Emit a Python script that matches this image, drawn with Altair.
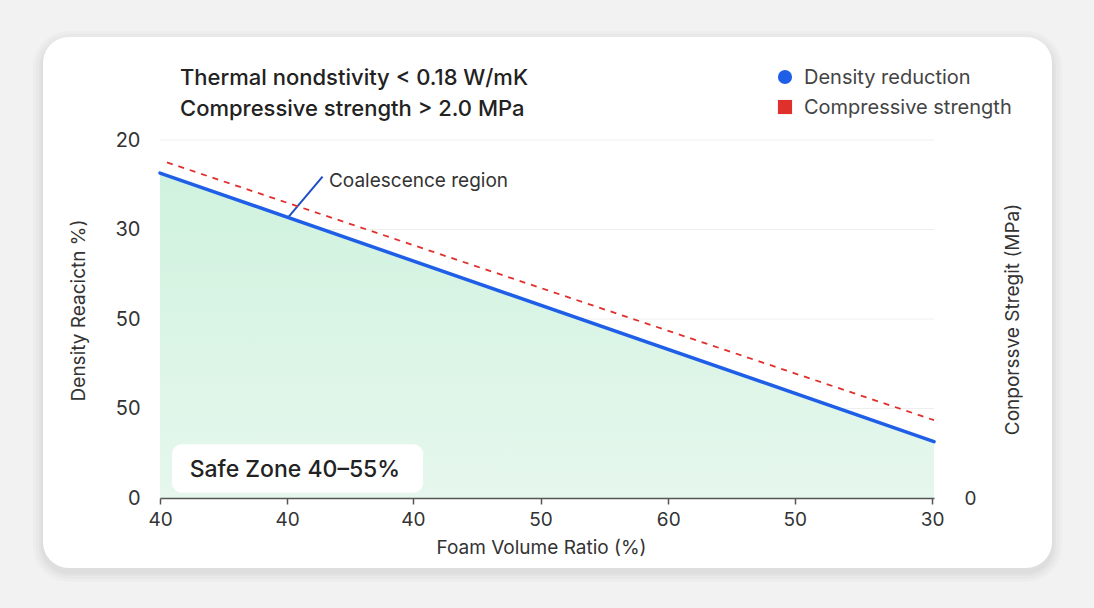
import altair as alt
import pandas as pd

# ---- data ----
x_labels = ["40", "40", "40", "50", "60", "50", "30"]        # x tick labels
x_tick_pos = [0.0, 0.985, 1.96, 2.95, 3.94, 4.92, 5.985]     # where they sit on the axis
y_labels = ["0", "50", "50", "30", "20"]                      # left y tick labels (positions 0..4)

density_x = [0.0, 6.0]
density_y = [3.63, 0.63]
strength_x = [0.054, 6.0]
strength_y = [3.75, 0.87]

series_names = ["Density reduction", "Compressive strength"]
series_colors = ["#1f5fe8", "#e0302c"]

header_lines = ["Thermal nondstivity < 0.18 W/mK", "Compressive strength > 2.0 MPa"]
annot_text = "Coalescence region"
annot_line_x = [0.99, 1.26]
annot_line_y = [3.13, 3.59]
annot_pos = (1.31, 3.54)
safe_text = "Safe Zone 40–55%"
safe_box = (0.093, 2.04, 0.06, 0.60)

FONT = "Inter"
W, H = 774, 358
L, T = 160, 140

xs = alt.Scale(domain=[0, 6], nice=False, zero=False)
ys = alt.Scale(domain=[0, 4], nice=False, zero=False)

x_label_expr = ("[" + ",".join(f"'{v}'" for v in x_labels) + "][indexof(["
                + ",".join(str(p) for p in x_tick_pos) + "], datum.value)]")
y_label_expr = "[" + ",".join(f"'{v}'" for v in y_labels) + "][round(datum.value)]"

x_axis = alt.Axis(values=x_tick_pos, labelExpr=x_label_expr, zindex=2,
                  title="Foam Volume Ratio (%)", grid=False, domainColor="#555555",
                  domainWidth=1.5, tickColor="#555555", tickSize=6, tickWidth=1.5,
                  labelFlush=False, labelOverlap=False,
                  labelFontSize=19, labelColor="#333333", labelPadding=6, labelFont=FONT,
                  titleFont=FONT, titleFontSize=19, titleFontWeight="normal", titleColor="#333333",
                  titleY=49, titleBaseline="middle", titleX=W / 2 - 6)
y_axis = alt.Axis(values=list(range(len(y_labels))), labelExpr=y_label_expr, zindex=2,
                  title="Density Reacictn %)", grid=False, domain=False,
                  ticks=False, labelFontSize=20, labelColor="#333333", labelPadding=20,
                  labelFont=FONT, titleFont=FONT, titleFontSize=19, titleFontWeight="normal",
                  titleColor="#333333", titleAngle=-90, titleX=-82, titleY=170,
                  titleAlign="center", titleBaseline="middle")

dens = pd.DataFrame({"x": density_x, "y": density_y, "series": series_names[0]})
stren = pd.DataFrame({"x": strength_x, "y": strength_y, "series": series_names[1]})

# card background (decoration)
def card(dx, dy, grow, color, op):
    return alt.Chart(pd.DataFrame({"a": [0]})).mark_rect(
        fill=color, opacity=op, cornerRadius=26 + grow).encode(
        x=alt.value(43 - L - grow + dx), x2=alt.value(1052 - L + grow + dx),
        y=alt.value(37 - T - grow + dy), y2=alt.value(568 - T + grow + dy))

shadow = [card(0, 4, g, "#000000", 0.018) for g in (10, 7, 4, 2)]
card_main = card(0, 0, 0, "#ffffff", 1)

grid = alt.Chart(pd.DataFrame({"y": list(range(1, len(y_labels)))})).mark_rule(
    color="#eeeeee", strokeWidth=1).encode(
    y=alt.Y("y:Q", scale=ys, axis=None), x=alt.value(0), x2=alt.value(W))

area = alt.Chart(dens).mark_area(
    color=alt.Gradient(gradient="linear",
                       stops=[alt.GradientStop(color="#e6f7ed", offset=0),
                              alt.GradientStop(color="#cff2de", offset=1)],
                       x1=1, x2=1, y1=1, y2=0),
    clip=True).encode(
    x=alt.X("x:Q", scale=xs, axis=x_axis),
    y=alt.Y("y:Q", scale=ys, axis=y_axis))

color_scale = alt.Scale(domain=series_names, range=series_colors)

blue = alt.Chart(dens).mark_line(strokeWidth=3.5, strokeCap="round").encode(
    x=alt.X("x:Q", scale=xs), y=alt.Y("y:Q", scale=ys),
    color=alt.Color("series:N", scale=color_scale, legend=None))

red = alt.Chart(stren).mark_line(strokeWidth=1.8, strokeDash=[6, 6]).encode(
    x=alt.X("x:Q", scale=xs),
    y=alt.Y("y:Q", scale=ys,
            axis=alt.Axis(orient="right", values=[0], labelExpr="'0'", grid=False, zindex=2,
                          domain=False, ticks=False, labelFontSize=19, labelColor="#333333",
                          labelPadding=30, labelFont=FONT,
                          title="Conporssve Stregit (MPa)", titleFont=FONT, titleFontSize=19,
                          titleFontWeight="normal", titleColor="#333333", titleAngle=-90,
                          titleX=78, titleY=179, titleAlign="center", titleBaseline="middle")),
    color=alt.Color("series:N", scale=color_scale, legend=None))

# legend built from the series lists
leg = pd.DataFrame({"series": series_names, "row": [0, 1]})
row_scale_leg = alt.Scale(domain=[0, 1], range=[77 - T, 107 - T])
leg_sym = alt.Chart(leg).mark_point(filled=True, opacity=1, size=200).encode(
    x=alt.value(785 - L), y=alt.Y("row:Q", scale=row_scale_leg, axis=None),
    color=alt.Color("series:N", scale=color_scale, legend=None),
    shape=alt.Shape("series:N", scale=alt.Scale(domain=series_names, range=["circle", "square"]),
                    legend=None))
leg_txt = alt.Chart(leg).mark_text(align="left", baseline="middle", fontSize=20, font=FONT,
                                   color="#444444", dy=1).encode(
    x=alt.value(804 - L), y=alt.Y("row:Q", scale=row_scale_leg, axis=None),
    text="series:N")

head = pd.DataFrame({"t": header_lines, "row": [0, 1]})
head_txt = alt.Chart(head).mark_text(align="left", baseline="middle", fontSize=22, font=FONT,
                                     fontWeight=500, color="#222222", dy=1).encode(
    x=alt.value(180 - L),
    y=alt.Y("row:Q", scale=alt.Scale(domain=[0, 1], range=[77 - T, 108 - T]), axis=None),
    text="t:N")

ann_line = alt.Chart(pd.DataFrame({"x": annot_line_x, "y": annot_line_y})).mark_line(
    color="#1d4fc4", strokeWidth=2).encode(x=alt.X("x:Q", scale=xs), y=alt.Y("y:Q", scale=ys))
ann_txt = alt.Chart(pd.DataFrame({"x": [annot_pos[0]], "y": [annot_pos[1]], "t": [annot_text]})).mark_text(
    align="left", baseline="middle", fontSize=19, font=FONT, color="#333333").encode(
    x=alt.X("x:Q", scale=xs), y=alt.Y("y:Q", scale=ys), text="t:N")

sb = pd.DataFrame({"x": [safe_box[0]], "x2": [safe_box[1]], "y": [safe_box[2]], "y2": [safe_box[3]]})
safe_shadow = alt.Chart(sb).mark_rect(fill="#000000", opacity=0.04, cornerRadius=11).encode(
    x=alt.X("x:Q", scale=xs), x2="x2:Q", y=alt.Y("y:Q", scale=ys), y2="y2:Q")
safe_rect = alt.Chart(sb).mark_rect(fill="#ffffff", cornerRadius=10).encode(
    x=alt.X("x:Q", scale=xs), x2="x2:Q", y=alt.Y("y:Q", scale=ys), y2="y2:Q")
safe_txt = alt.Chart(pd.DataFrame({"x": [0.23], "y": [0.31], "t": [safe_text]})).mark_text(
    align="left", baseline="middle", fontSize=23, font=FONT, fontWeight=500, color="#222222").encode(
    x=alt.X("x:Q", scale=xs), y=alt.Y("y:Q", scale=ys), text="t:N")

chart = alt.layer(
    *shadow, card_main, grid, area, safe_shadow, safe_rect, safe_txt, ann_line, ann_txt,
    blue, red, leg_sym, leg_txt, head_txt
).resolve_scale(y="independent").properties(
    width=W, height=H,
    autosize=alt.AutoSizeParams(type="none"),
    padding={"left": L, "top": T, "right": 1094 - L - W, "bottom": 608 - T - H},
    background="#f2f2f2",
).configure_view(stroke=None)

chart.save("out.html", embed_options={"renderer": "svg", "actions": False})
